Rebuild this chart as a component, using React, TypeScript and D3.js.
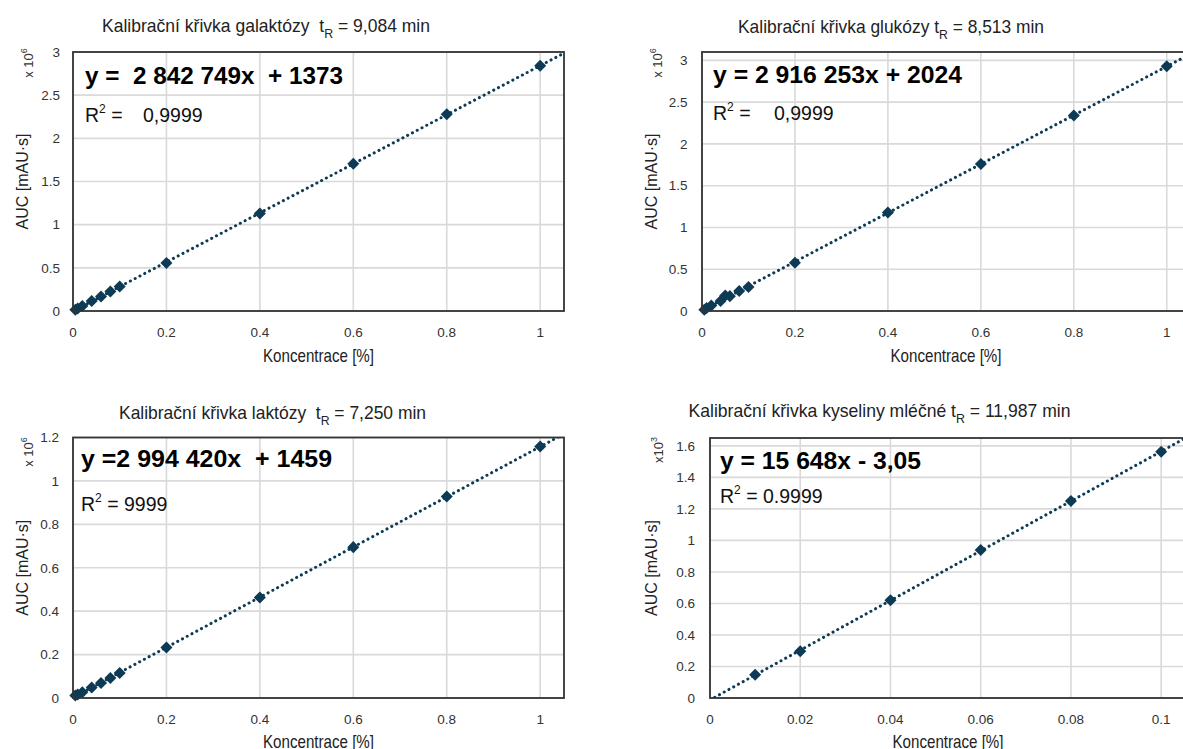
import React from "react";
import * as d3 from "d3";

// ---------- data (values in display units: ×10^6 or ×10^3) ----------
const galX = [0.005, 0.01, 0.02, 0.04, 0.06, 0.08, 0.1, 0.2, 0.4, 0.6, 0.8, 1];
const galY = [0.015, 0.03, 0.058, 0.115, 0.168, 0.225, 0.283, 0.555, 1.13, 1.705, 2.28, 2.84];

const gluX = [0.005, 0.01, 0.02, 0.04, 0.05, 0.06, 0.08, 0.1, 0.2, 0.4, 0.6, 0.8, 1];
const gluY = [0.015, 0.035, 0.065, 0.12, 0.185, 0.178, 0.238, 0.286, 0.578, 1.18, 1.76, 2.34, 2.93];

const lacX = [0.005, 0.01, 0.02, 0.04, 0.06, 0.08, 0.1, 0.2, 0.4, 0.6, 0.8, 1];
const lacY = [0.012, 0.016, 0.026, 0.048, 0.069, 0.092, 0.115, 0.233, 0.463, 0.695, 0.928, 1.158];

const mlkX = [0.01, 0.02, 0.04, 0.06, 0.08, 0.1];
const mlkY = [0.148, 0.297, 0.621, 0.939, 1.25, 1.562];

const xTicksMain = ["0", "0.2", "0.4", "0.6", "0.8", "1"];
const xTicksMlk = ["0", "0.02", "0.04", "0.06", "0.08", "0.1"];
const yTicks3 = ["0", "0.5", "1", "1.5", "2", "2.5", "3"];
const yTicks12 = ["0", "0.2", "0.4", "0.6", "0.8", "1", "1.2"];
const yTicks16 = ["0", "0.2", "0.4", "0.6", "0.8", "1", "1.2", "1.4", "1.6"];

const titles = [
  ["Kalibrační křivka galaktózy  t", " = 9,084 min"],
  ["Kalibrační křivka glukózy t", " = 8,513 min"],
  ["Kalibrační křivka laktózy  t", " = 7,250 min"],
  ["Kalibrační křivka kyseliny mléčné t", " = 11,987 min"],
];
const equations = [
  "y =  2 842 749x  + 1373",
  "y = 2 916 253x + 2024",
  "y =2 994 420x  + 1459",
  "y = 15 648x - 3,05",
];
const r2Labels = [" =", " =", " = 9999", " = 0.9999"];
const r2Values = ["0,9999", "0,9999", "", ""];
const unitExp = ["6", "6", "6", "3"];
const unitPrefix = ["x 10", "x 10", "x 10", "x10"];
const xTitle = "Koncentrace [%]";
const yTitle = "AUC [mAU·s]";

const MARK = "#0d3b55";
const SANS = "'Liberation Sans', Arial, sans-serif";

type Cfg = {
  id: number;
  xs: number[];
  ys: number[];
  xTicks: string[];
  yTicks: string[];
  xMax: number;
  yMax: number;
  left: number;
  right: number;
  top: number;
  bottom: number;
  titleX: number;
  titleY: number;
  titleW: number;
  eqX: number;
  eqY: number;
  eqW: number;
  r2Y: number;
  r2ValX: number;
  unitX: number;
  unitY: number;
  yTitleX: number;
  xTitleY: number;
  yLabelGap: number;
};

const panels: Cfg[] = [
  {
    id: 0, xs: galX, ys: galY, xTicks: xTicksMain, yTicks: yTicks3, xMax: 1.051, yMax: 3,
    left: 73, right: 564, top: 52, bottom: 311,
    titleX: 102, titleY: 31.5, titleW: 328, eqX: 85, eqY: 83.5, eqW: 258, r2Y: 121.5, r2ValX: 143,
    unitX: 33, unitY: 63, yTitleX: 28, xTitleY: 362, yLabelGap: 13,
  },
  {
    id: 1, xs: gluX, ys: gluY, xTicks: xTicksMain, yTicks: yTicks3, xMax: 1.05, yMax: 3.1,
    left: 702, right: 1190, top: 52, bottom: 311,
    titleX: 738, titleY: 33, titleW: 306, eqX: 713, eqY: 83, eqW: 249, r2Y: 119.5, r2ValX: 774,
    unitX: 662, unitY: 63, yTitleX: 657, xTitleY: 362, yLabelGap: 14.5,
  },
  {
    id: 2, xs: lacX, ys: lacY, xTicks: xTicksMain, yTicks: yTicks12, xMax: 1.051, yMax: 1.2,
    left: 73, right: 564, top: 437.5, bottom: 698,
    titleX: 119, titleY: 419, titleW: 307, eqX: 81, eqY: 467, eqW: 251, r2Y: 510.5, r2ValX: 0,
    unitX: 33, unitY: 452, yTitleX: 28, xTitleY: 748, yLabelGap: 14,
  },
  {
    id: 3, xs: mlkX, ys: mlkY, xTicks: xTicksMlk, yTicks: yTicks16, xMax: 0.1055, yMax: 1.65,
    left: 710, right: 1186, top: 438, bottom: 698,
    titleX: 688.5, titleY: 416.5, titleW: 382, eqX: 720, eqY: 469, eqW: 201, r2Y: 503, r2ValX: 0,
    unitX: 663, unitY: 450, yTitleX: 657, xTitleY: 748, yLabelGap: 15,
  },
];

function Panel({ c }: { c: Cfg }) {
  const x = d3.scaleLinear().domain([0, c.xMax]).range([c.left, c.right]);
  const y = d3.scaleLinear().domain([0, c.yMax]).range([c.bottom, c.top]);
  // least-squares trendline from the data
  const mx = d3.mean(c.xs) as number;
  const my = d3.mean(c.ys) as number;
  let sxy = 0;
  let sxx = 0;
  c.xs.forEach((v, i) => {
    sxy += (v - mx) * (c.ys[i] - my);
    sxx += (v - mx) * (v - mx);
  });
  const slope = sxy / sxx;
  const icpt = my - slope * mx;
  const line = d3
    .line<number>()
    .x((d) => x(d))
    .y((d) => y(slope * d + icpt));
  const diamond = d3.symbol().type(d3.symbolDiamond2).size(92)() as string;
  const clipId = `clip${c.id}`;
  const i = c.id;
  const cx = (c.left + c.right) / 2;
  const cy = (c.top + c.bottom) / 2;
  return (
    <g>
      <defs>
        <clipPath id={clipId}>
          <rect x={c.left} y={c.top} width={c.right - c.left} height={c.bottom - c.top} />
        </clipPath>
      </defs>
      {/* title */}
      <text
        x={c.titleX}
        y={c.titleY}
        fontFamily={SANS}
        fontSize={18.5}
        fill="#222"
        textLength={c.titleW}
        lengthAdjust="spacingAndGlyphs"
        style={{ whiteSpace: "pre" }}
      >
        {titles[i][0]}
        <tspan fontSize={13} dy={6}>R</tspan>
        <tspan dy={-6}>{titles[i][1]}</tspan>
      </text>
      {/* grid */}
      {c.xTicks.map((t) => (
        <line key={"gx" + t} x1={x(+t)} x2={x(+t)} y1={c.top} y2={c.bottom} stroke="#d9d9d9" strokeWidth={1.6} />
      ))}
      {c.yTicks.map((t) => (
        <line key={"gy" + t} x1={c.left} x2={c.right} y1={y(+t)} y2={y(+t)} stroke="#d9d9d9" strokeWidth={1.6} />
      ))}
      {/* trendline */}
      <path
        d={line([0, c.xMax]) as string}
        clipPath={`url(#${clipId})`}
        fill="none"
        stroke={MARK}
        strokeWidth={3}
        strokeDasharray="0.1 5.3"
        strokeLinecap="round"
      />
      {/* points */}
      {c.xs.map((v, k) => (
        <path key={"p" + k} d={diamond} transform={`translate(${x(v)},${y(c.ys[k])})`} fill={MARK} />
      ))}
      {/* frame */}
      <rect x={c.left} y={c.top} width={c.right - c.left} height={c.bottom - c.top} fill="none" stroke="#333" strokeWidth={1.8} />
      {/* tick labels */}
      {c.xTicks.map((t) => (
        <text key={"tx" + t} x={x(+t)} y={c.bottom + 25.5} textAnchor="middle" fontFamily={SANS} fontSize={13.5} fill="#333">
          {t}
        </text>
      ))}
      {c.yTicks.map((t) => (
        <text key={"ty" + t} x={c.left - c.yLabelGap} y={y(+t) + 4.8} textAnchor="end" fontFamily={SANS} fontSize={13.5} fill="#333">
          {t}
        </text>
      ))}
      {/* axis titles */}
      <text
        x={cx}
        y={c.xTitleY}
        textAnchor="middle"
        fontFamily={SANS}
        fontSize={18.5}
        fill="#222"
        textLength={111}
        lengthAdjust="spacingAndGlyphs"
      >
        {xTitle}
      </text>
      <text
        transform={`translate(${c.yTitleX},${cy}) rotate(-90)`}
        textAnchor="middle"
        fontFamily={SANS}
        fontSize={16}
        fill="#222"
      >
        {yTitle}
      </text>
      <text transform={`translate(${c.unitX},${c.unitY}) rotate(-90)`} textAnchor="middle" fontFamily={SANS} fontSize={13} fill="#333">
        {unitPrefix[i]}
        <tspan fontSize={9} dy={-6}>{unitExp[i]}</tspan>
      </text>
      {/* equation */}
      <text
        x={c.eqX}
        y={c.eqY}
        fontFamily={SANS}
        fontWeight="bold"
        fontSize={23.5}
        fill="#000"
        textLength={c.eqW}
        lengthAdjust="spacingAndGlyphs"
        style={{ whiteSpace: "pre" }}
      >
        {equations[i]}
      </text>
      <text x={c.eqX} y={c.r2Y} fontFamily={SANS} fontSize={19.5} fill="#111" style={{ whiteSpace: "pre" }}>
        R<tspan fontSize={12} dy={-9}>2</tspan>
        <tspan dy={9}>{r2Labels[i]}</tspan>
      </text>
      {r2Values[i] ? (
        <text x={c.r2ValX} y={c.r2Y} fontFamily={SANS} fontSize={19.5} fill="#111">
          {r2Values[i]}
        </text>
      ) : null}
    </g>
  );
}

export default function App() {
  return (
    <svg
      width={1183}
      height={749}
      viewBox="0 0 1183 749"
      style={{ position: "absolute", left: 0, top: 0, background: "#fff" }}
    >
      <rect x={0} y={0} width={1183} height={749} fill="#fff" />
      {panels.map((c) => (
        <Panel key={c.id} c={c} />
      ))}
    </svg>
  );
}
